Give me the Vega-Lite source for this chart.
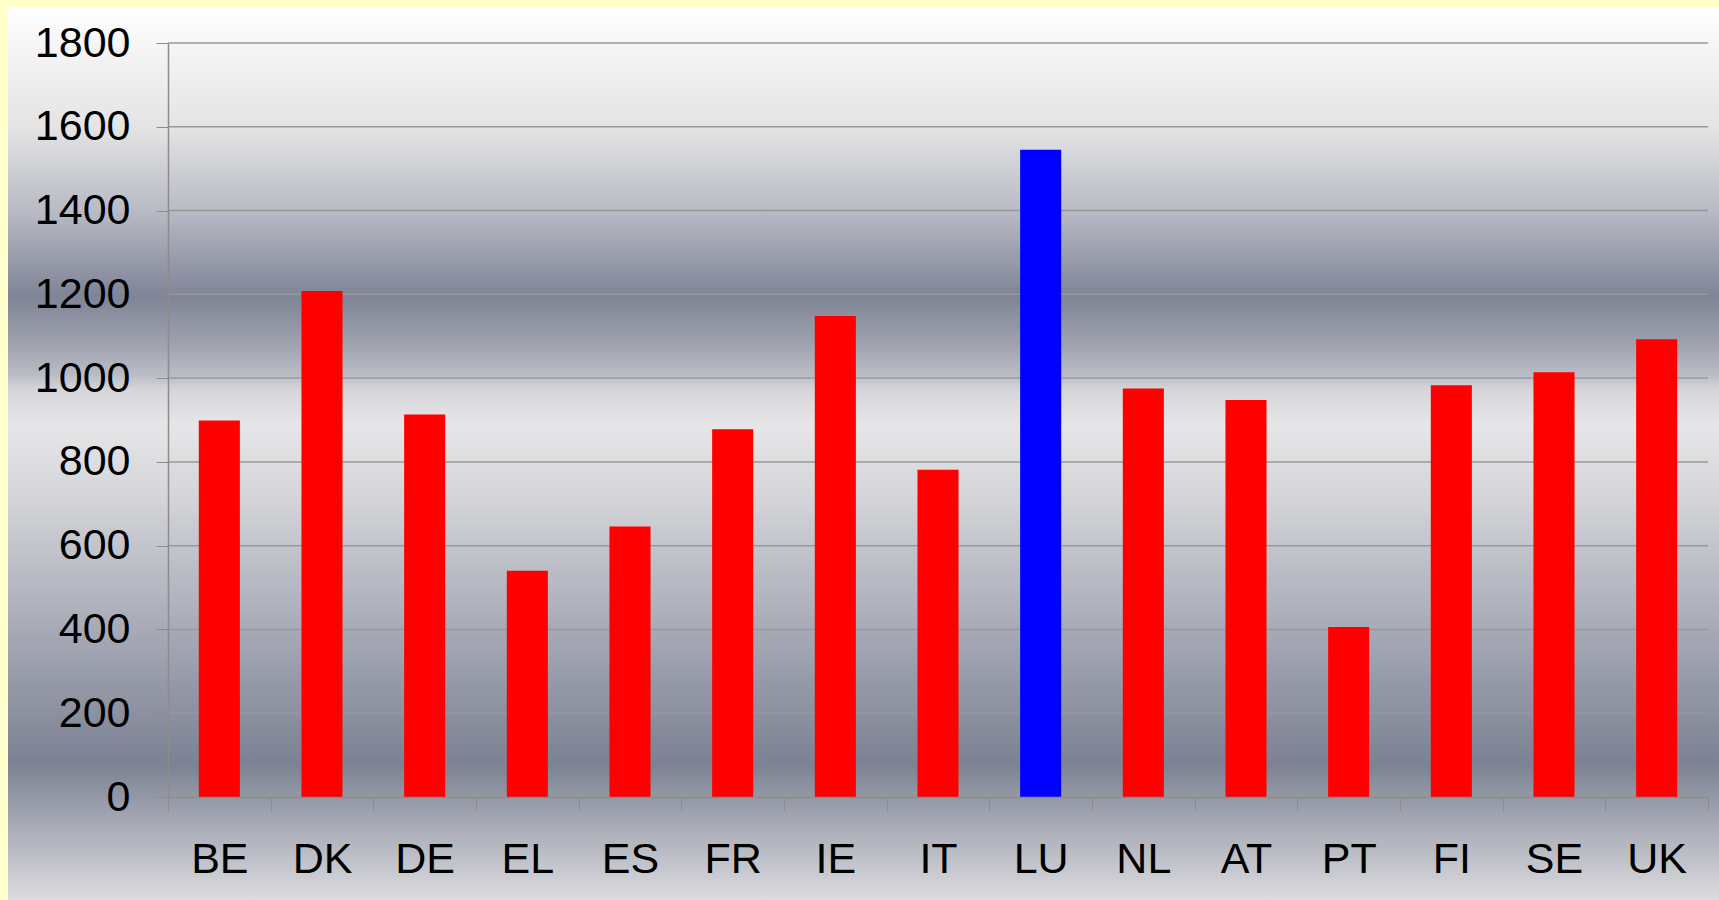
{
  "$schema": "https://vega.github.io/schema/vega-lite/v6.json",
  "width": 1540,
  "height": 754,
  "autosize": {"type": "none"},
  "padding": {"left": 168, "top": 43, "right": 11, "bottom": 103},
  "background": "#ffffcc",
  "config": {
    "view": {"stroke": null},
    "font": "Liberation Sans",
    "axis": {"labelFont": "Liberation Sans", "labelColor": "#000000"}
  },
  "layer": [
    {
      "data": {"values": [{"panel": "background"}]},
      "mark": {
        "type": "rect",
        "clip": false,
        "fill": {
          "gradient": "linear",
          "x1": 0, "y1": 0, "x2": 0, "y2": 1,
          "stops": [
            {"offset": 0.0, "color": "#ffffff"},
            {"offset": 0.04, "color": "#f6f6f6"},
            {"offset": 0.134, "color": "#e4e4e5"},
            {"offset": 0.227, "color": "#b9bbc5"},
            {"offset": 0.324, "color": "#7f8496"},
            {"offset": 0.378, "color": "#9fa2ae"},
            {"offset": 0.412, "color": "#babcc5"},
            {"offset": 0.429, "color": "#d6d6da"},
            {"offset": 0.468, "color": "#e6e6e8"},
            {"offset": 0.552, "color": "#d3d4d8"},
            {"offset": 0.664, "color": "#b1b3be"},
            {"offset": 0.776, "color": "#9094a3"},
            {"offset": 0.847, "color": "#7c8293"},
            {"offset": 0.91, "color": "#a4a7b3"},
            {"offset": 1.0, "color": "#dcdcdf"}
          ]
        }
      },
      "encoding": {
        "x": {"value": -160},
        "x2": {"value": 1551},
        "y": {"value": -36},
        "y2": {"value": 857}
      }
    },
    {
      "data": {"values": [{"t": 0}, {"t": 200}, {"t": 400}, {"t": 600}, {"t": 800}, {"t": 1000}, {"t": 1200}, {"t": 1400}, {"t": 1600}, {"t": 1800}]},
      "mark": {"type": "rule", "color": "#989898", "strokeWidth": 1.5},
      "encoding": {
        "y": {"field": "t", "type": "quantitative", "scale": {"domain": [0, 1800]}}
      }
    },
    {
      "data": {
        "values": [
          {"country": "BE", "value": 899},
          {"country": "DK", "value": 1208},
          {"country": "DE", "value": 913},
          {"country": "EL", "value": 540},
          {"country": "ES", "value": 646},
          {"country": "FR", "value": 878},
          {"country": "IE", "value": 1148},
          {"country": "IT", "value": 781},
          {"country": "LU", "value": 1545},
          {"country": "NL", "value": 975},
          {"country": "AT", "value": 948},
          {"country": "PT", "value": 406},
          {"country": "FI", "value": 983},
          {"country": "SE", "value": 1014},
          {"country": "UK", "value": 1093}
        ]
      },
      "mark": {"type": "bar", "width": {"band": 0.4}},
      "encoding": {
        "x": {
          "field": "country",
          "type": "nominal",
          "sort": null,
          "scale": {"paddingInner": 0, "paddingOuter": 0},
          "axis": {
            "title": null,
            "labelAngle": 0,
            "labelFontSize": 43,
            "labelPadding": 28,
            "tickBand": "extent",
            "tickSize": 13,
            "tickColor": "#8c8c8c",
            "domainColor": "#8c8c8c",
            "domainWidth": 1.5,
            "grid": false,
            "zindex": 1
          }
        },
        "y": {
          "field": "value",
          "type": "quantitative",
          "scale": {"domain": [0, 1800]},
          "axis": {
            "title": null,
            "format": "d",
            "values": [0, 200, 400, 600, 800, 1000, 1200, 1400, 1600, 1800],
            "labelFontSize": 43,
            "labelPadding": 26,
            "tickSize": 12,
            "tickColor": "#8c8c8c",
            "domainColor": "#8c8c8c",
            "domainWidth": 1.5,
            "grid": false,
            "zindex": 1
          }
        },
        "color": {
          "condition": {"test": "datum.country === 'LU'", "value": "#0000ff"},
          "value": "#ff0000"
        }
      }
    }
  ]
}
